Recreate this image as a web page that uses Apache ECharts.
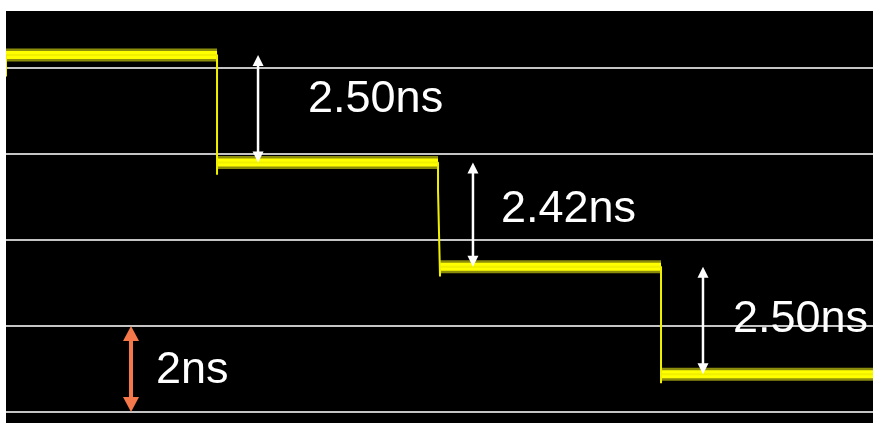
<!DOCTYPE html>
<html>
<head>
<meta charset="utf-8">
<script src="https://cdn.jsdelivr.net/npm/echarts@6/dist/echarts.min.js"></script>
<style>
  html, body { margin: 0; padding: 0; background: #ffffff; }
  #chart { position: absolute; left: 6px; top: 11px; width: 867px; height: 412px; }
</style>
</head>
<body>
<div id="chart"></div>
<script>
// Delay steps of the trace (ns), read top to bottom
const startLevel = 8.30;
const stepDelays = [2.50, 2.42, 2.50];
// Times (horizontal units) at which each step edge happens
const edgeTimes = [24.34, 49.83, 75.55];
// Overshoot of each falling edge below the new level (ns)
const edgeOvershoot = [0.28, 0.23, 0.21];
// Small jog on the second edge
const jogLevel = 5.16;
const jogTime = 50.06;
const traceEnd = 100;
// Measurement arrows placed between successive levels
const arrowTimes = [29.07, 53.86, 80.39];
// Scale marker: one grid division
const scaleTime = 14.42;
const scaleSpan = [0, 2];
const scaleLabel = '2ns';
// Grid tick values
const yTicks = [0, 2, 4, 6, 8];

// Levels follow from the labelled delays
const levels = [startLevel];
stepDelays.forEach(function (d, i) { levels.push(+(levels[i] - d).toFixed(2)); });

// Thin trace including the falling edges
const edgeX = [edgeTimes[0], edgeTimes[1], edgeTimes[2]];
const traceThin = [
  [0, 7.80], [0, levels[0]],
  [edgeX[0], levels[0]], [edgeX[0], levels[1] - edgeOvershoot[0]], [edgeX[0], levels[1]],
  [edgeX[1], levels[1]], [edgeX[1], jogLevel], [jogTime, jogLevel],
  [jogTime, levels[2] - edgeOvershoot[1]], [jogTime, levels[2]],
  [edgeX[2], levels[2]], [edgeX[2], levels[3] - edgeOvershoot[2]], [edgeX[2], levels[3]],
  [traceEnd, levels[3]]
];

// Flat sections of the trace (thick noisy band)
const segStarts = [0, edgeTimes[0], jogTime, edgeTimes[2]];
const segEnds = [edgeTimes[0], edgeTimes[1], edgeTimes[2], traceEnd];

// Arrow items: [time, top, bottom, text, style]
const arrowItems = arrowTimes.map(function (t, i) {
  return [t, levels[i], levels[i + 1], stepDelays[i].toFixed(2) + 'ns', 0];
});
arrowItems.push([scaleTime, scaleSpan[1], scaleSpan[0], scaleLabel, 1]);

// Label placement relative to each arrow (px)
const labelShift = [[50, -9], [28, -5], [30, -1], [25, 2]];
const arrowStyles = [
  { color: '#ffffff', shaft: 2.5, headW: 11, headL: 11 },
  { color: '#f5784a', shaft: 4, headW: 16, headL: 15 }
];

const series = [];
segStarts.forEach(function (s, i) {
  const lv = levels[i];
  series.push({
    type: 'line', clip: false, silent: true, symbol: 'none', z: 3,
    data: [[s, lv], [segEnds[i], lv]],
    lineStyle: { color: 'rgba(235,235,20,0.6)', width: 13 }
  });
  series.push({
    type: 'line', clip: false, silent: true, symbol: 'none', z: 4,
    data: [[s, lv], [segEnds[i], lv]],
    lineStyle: { color: '#ffff00', width: 8 }
  });
});
series.push({
  type: 'line', clip: false, silent: true, symbol: 'none', z: 5,
  data: traceThin,
  lineStyle: { color: '#f0f000', width: 2 }
});
series.push({
  type: 'custom', clip: false, silent: true, z: 10,
  data: arrowItems,
  renderItem: function (params, api) {
    const idx = params.dataIndex;
    const st = arrowStyles[api.value(4)];
    const top = api.coord([api.value(0), api.value(1)]);
    const bot = api.coord([api.value(0), api.value(2)]);
    const x = top[0];
    const hw = st.headW / 2;
    const sh = labelShift[idx];
    const midY = (top[1] + bot[1]) / 2;
    return {
      type: 'group',
      children: [
        { type: 'line', shape: { x1: x, y1: top[1] + st.headL - 1, x2: x, y2: bot[1] - st.headL + 1 },
          style: { stroke: st.color, lineWidth: st.shaft } },
        { type: 'polygon', shape: { points: [[x, top[1]], [x - hw, top[1] + st.headL], [x + hw, top[1] + st.headL]] },
          style: { fill: st.color } },
        { type: 'polygon', shape: { points: [[x, bot[1]], [x - hw, bot[1] - st.headL], [x + hw, bot[1] - st.headL]] },
          style: { fill: st.color } },
        { type: 'text', x: x + sh[0], y: midY + sh[1],
          style: { text: arrowItems[idx][3], fill: '#ffffff', font: '45px "Liberation Sans", Arial, sans-serif',
                   align: 'left', verticalAlign: 'middle' } }
      ]
    };
  }
});

const chart = echarts.init(document.getElementById('chart'));
chart.setOption({
  backgroundColor: '#000000',
  animation: false,
  grid: { left: 0, right: 0, top: 57, bottom: 11 },
  xAxis: {
    type: 'value', min: 0, max: traceEnd,
    axisLine: { show: false }, axisTick: { show: false }, axisLabel: { show: false },
    splitLine: { show: false }
  },
  yAxis: {
    type: 'value', min: yTicks[0], max: yTicks[yTicks.length - 1], interval: 2,
    axisLine: { show: false }, axisTick: { show: false }, axisLabel: { show: false },
    splitLine: { show: true, lineStyle: { color: '#c4c4c4', width: 2 } }
  },
  series: series
});
</script>
</body>
</html>
